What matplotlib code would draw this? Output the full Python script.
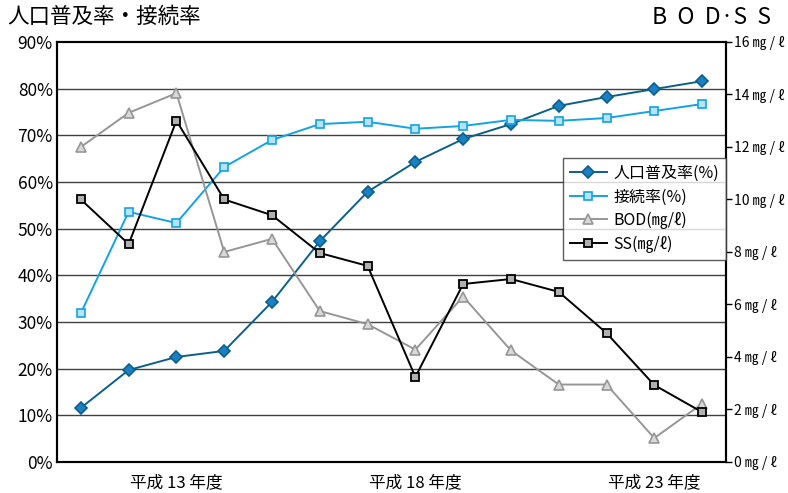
import numpy as np
import matplotlib
matplotlib.use('Agg')

import matplotlib.pyplot as plt

plt.rcParams['font.family'] = ['Noto Sans CJK JP', 'DejaVu Sans']

# 平成11年度〜平成24年度
years = list(range(11, 25))
tick_years = [13, 18, 23]

fukyu = [11.6, 19.7, 22.5, 23.8, 34.3, 47.3, 57.9, 64.3, 69.2, 72.4, 76.3, 78.2, 79.9, 81.6]
setsuzoku = [31.9, 53.6, 51.2, 63.2, 69.0, 72.4, 72.9, 71.4, 72.0, 73.3, 73.1, 73.7, 75.2, 76.7]
bod = [12.0, 13.3, 14.05, 8.0, 8.5, 5.75, 5.25, 4.28, 6.3, 4.25, 2.95, 2.95, 0.91, 2.22]
ss = [10.0, 8.3, 13.0, 10.0, 9.4, 7.96, 7.47, 3.24, 6.78, 6.97, 6.48, 4.91, 2.93, 1.9]


def main():
    fig = plt.figure(figsize=(7.88, 4.93), dpi=100)
    ax = fig.add_axes([0.0723, 0.0629, 0.849, 0.852])
    ax2 = ax.twinx()

    x = np.arange(len(years))

    # gridlines for the percent axis
    for v in range(10, 90, 10):
        ax.axhline(v, color='#404040', lw=1.0, zorder=0)

    l1, = ax.plot(x, fukyu, color='#0b5f8a', lw=1.4, marker='D', ms=6.5,
                  mfc='#1a80c4', mec='#0b5f8a', mew=1.2, label='人口普及率(%)', zorder=5)
    l2, = ax.plot(x, setsuzoku, color='#12a3e3', lw=1.4, marker='s', ms=6,
                  mfc='#b8e2f6', mec='#12a3e3', mew=1.2, label='接続率(%)', zorder=5)
    l3, = ax2.plot(x, bod, color='#969696', lw=1.4, marker='^', ms=7,
                   mfc='#d8d8d8', mec='#969696', mew=1.2, label='BOD(㎎/ℓ)', zorder=5)
    l4, = ax2.plot(x, ss, color='black', lw=1.4, marker='s', ms=6,
                   mfc='#b0b0b0', mec='black', mew=1.3, label='SS(㎎/ℓ)', zorder=5)

    ax.set_xlim(-0.5, len(years) - 0.5)
    ax.set_ylim(0, 90)
    ax.set_yticks(range(0, 100, 10))
    ax.set_yticklabels([f'{v}%' for v in range(0, 100, 10)], fontsize=12.5)
    ax.tick_params(axis='y', length=0, pad=3)
    ax.set_xticks([years.index(t) for t in tick_years])
    ax.set_xticklabels([f'平成 {t} 年度' for t in tick_years], fontsize=12)
    ax.tick_params(axis='x', length=0, pad=9)

    ax2.set_ylim(0, 16)
    ax2.set_yticks(range(0, 18, 2))
    ax2.set_yticklabels([f'{v} ㎎ / ℓ' for v in range(0, 18, 2)], fontsize=10)
    ax2.tick_params(axis='y', length=4, width=1, pad=2)

    for a in (ax, ax2):
        for s in a.spines.values():
            s.set_linewidth(1.5)
            s.set_color('black')

    leg = ax2.legend(handles=[l1, l2, l3, l4], loc='upper right',
                     bbox_to_anchor=(1.0, 0.724), borderaxespad=0, fontsize=11.5,
                     frameon=True, fancybox=False, edgecolor='#333333',
                     handlelength=2.3, borderpad=0.45, labelspacing=0.4,
                     handletextpad=0.4)
    leg.get_frame().set_linewidth(1.0)
    leg.set_zorder(10)

    fig.text(0.009, 0.965, '人口普及率・接続率', fontsize=15.5, va='center', ha='left')
    fig.text(0.978, 0.965, 'B  O  D·S  S', fontsize=16.5, va='center', ha='right')

    fig.savefig('out.png', dpi=100)


if __name__ == "__main__":
    main()
